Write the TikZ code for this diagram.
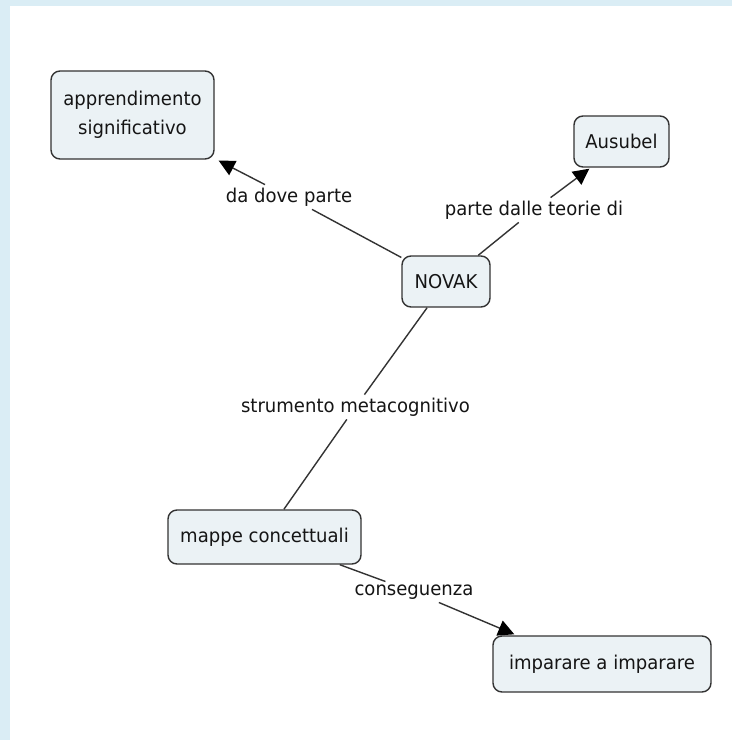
\documentclass[tikz,border=0pt]{standalone}
\usepackage{fontspec}
\setmainfont{DejaVu Sans}[FakeStretch=0.95]
\usetikzlibrary{arrows.meta,calc}
\definecolor{bandblue}{HTML}{DAEDF5}
\definecolor{conceptfill}{HTML}{EBF2F5}
\definecolor{edgegray}{HTML}{333333}
\definecolor{textgray}{HTML}{151515}
\begin{document}
\begin{tikzpicture}[x=1pt,y=-1pt,
  font=\fontsize{19}{29}\selectfont,
  concept/.style={draw=edgegray, fill=conceptfill, line width=1.4pt, rounded corners=9pt, inner sep=0pt, align=center, text=textgray},
  linkphrase/.style={inner sep=3pt, text=textgray},
  conn/.style={draw=edgegray, line width=1.4pt},
  arr/.style={conn, -{Triangle[length=16pt,width=16pt,fill=black,color=black]}}]
\fill[bandblue] (0,0) rectangle (732,740);
\fill[white] (10,6) rectangle (732,740);
\useasboundingbox (0,0) rectangle (732,740);

\node[concept, minimum width=163pt, minimum height=88pt] (appr) at (132.5,115) {apprendimento\\significativo};
\node[concept, minimum width=95pt, minimum height=51pt] (ausubel) at (621.5,141.5) {Ausubel};
\node[concept, minimum width=88pt, minimum height=51pt] (novak) at (446,281.5) {NOVAK};
\node[concept, minimum width=193pt, minimum height=54pt] (mappe) at (264.5,537) {mappe concettuali};
\node[concept, minimum width=218pt, minimum height=56pt] (imp) at (602,664) {imparare a imparare};

\node[linkphrase] (l1) at (289,197) {da dove parte};
\node[linkphrase] (l2) at (534,210) {parte dalle teorie di};
\node[linkphrase] (l3) at (355.5,407) {strumento metacognitivo};
\node[linkphrase] (l4) at (414,592) {conseguenza};

\draw[conn] (novak) -- (l1);
\draw[arr] (l1) -- ($(appr.south east)+(4,1)$);
\draw[conn] (novak) -- (l2);
\draw[arr] (l2) -- ($(ausubel.south west)+(16,1)$);
\draw[conn] (novak) -- (l3);
\draw[conn] (l3) -- (mappe);
\draw[conn] (mappe) -- (l4);
\draw[arr] (l4) -- ($(imp.north west)+(22,-1)$);
\end{tikzpicture}
\end{document}
